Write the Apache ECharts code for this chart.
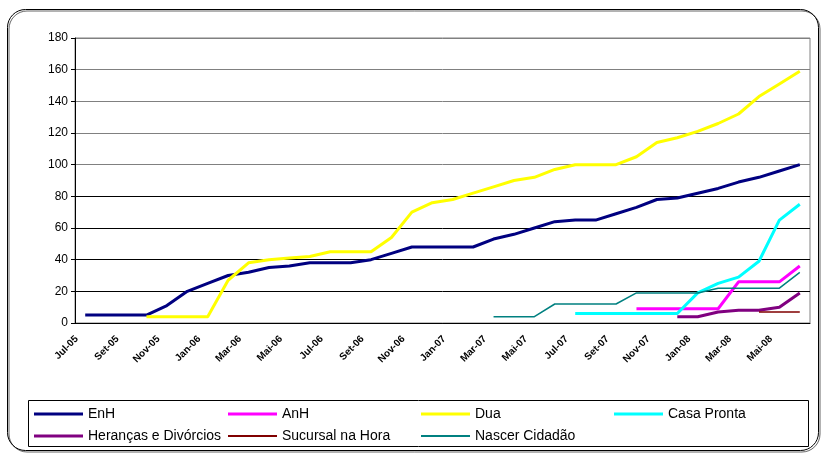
<!DOCTYPE html>
<html>
<head>
<meta charset="utf-8">
<script src="https://cdn.jsdelivr.net/npm/echarts@6/dist/echarts.min.js"></script>
<style>
    html, body {margin: 0; padding: 0; background: #fff;}
    #main {width: 822px; height: 453px;}
</style>
</head>
<body>
<div id="main"></div>
<script>
    // meses (Jul-05 .. Jun-08)
    const months = [
        'Jul-05', 'Ago-05', 'Set-05', 'Out-05', 'Nov-05', 'Dez-05',
        'Jan-06', 'Fev-06', 'Mar-06', 'Abr-06', 'Mai-06', 'Jun-06',
        'Jul-06', 'Ago-06', 'Set-06', 'Out-06', 'Nov-06', 'Dez-06',
        'Jan-07', 'Fev-07', 'Mar-07', 'Abr-07', 'Mai-07', 'Jun-07',
        'Jul-07', 'Ago-07', 'Set-07', 'Out-07', 'Nov-07', 'Dez-07',
        'Jan-08', 'Fev-08', 'Mar-08', 'Abr-08', 'Mai-08', 'Jun-08'
    ];
    const yTicks = [0, 20, 40, 60, 80, 100, 120, 140, 160, 180];

    const enh = [5, 5, 5, 5, 11, 20, 25, 30, 32, 35, 36, 38, 38, 38, 40, 44, 48, 48, 48, 48, 53, 56, 60, 64, 65, 65, 69, 73, 78, 79, 82, 85, 89, 92, 96, 100];
    const anh = [null, null, null, null, null, null, null, null, null, null, null, null, null, null, null, null, null, null, null, null, null, null, null, null, null, null, null, 9, 9, 9, 9, 9, 26, 26, 26, 36];
    const dua = [null, null, null, 4, 4, 4, 4, 27, 38, 40, 41, 42, 45, 45, 45, 54, 70, 76, 78, 82, 86, 90, 92, 97, 100, 100, 100, 105, 114, 117, 121, 126, 132, 143, 151, 159];
    const casaPronta = [null, null, null, null, null, null, null, null, null, null, null, null, null, null, null, null, null, null, null, null, null, null, null, null, 6, 6, 6, 6, 6, 6, 19, 25, 29, 39, 65, 75];
    const herancas = [null, null, null, null, null, null, null, null, null, null, null, null, null, null, null, null, null, null, null, null, null, null, null, null, null, null, null, null, null, 4, 4, 7, 8, 8, 10, 19];
    const sucursal = [null, null, null, null, null, null, null, null, null, null, null, null, null, null, null, null, null, null, null, null, null, null, null, null, null, null, null, null, null, null, null, null, null, 7, 7, 7];
    const nascer = [null, null, null, null, null, null, null, null, null, null, null, null, null, null, null, null, null, null, null, null, 4, 4, 4, 12, 12, 12, 12, 19, 19, 19, 19, 22, 22, 22, 22, 32];

    const seriesDefs = [
        {name: 'EnH', data: enh, color: '#000080', width: 3},
        {name: 'AnH', data: anh, color: '#ff00ff', width: 3},
        {name: 'Dua', data: dua, color: '#ffff00', width: 3},
        {name: 'Casa Pronta', data: casaPronta, color: '#00ffff', width: 3},
        {name: 'Heranças e Divórcios', data: herancas, color: '#800080', width: 3},
        {name: 'Sucursal na Hora', data: sucursal, color: '#800000', width: 1.5},
        {name: 'Nascer Cidadão', data: nascer, color: '#008080', width: 1.5}
    ];

    const font = 'Liberation Sans, Arial, sans-serif';
    const legendCols = [34, 228, 421, 614];
    const legendRows = [407, 429];

    let getOption = () => {
        // uma legenda por item, para ficar em colunas fixas como no original
        let legends = seriesDefs.map((s, i) => ({
            data: [s.name],
            left: legendCols[i % 4],
            top: legendRows[Math.floor(i / 4)],
            padding: 0,
            icon: 'rect',
            itemWidth: 49,
            itemHeight: s.width > 2 ? 3 : 2,
            selectedMode: false,
            itemStyle: {color: s.color, borderWidth: 0},
            textStyle: {fontSize: 14, fontFamily: font, color: '#000'}
        }));

        let option = {
            backgroundColor: '#fff',
            animation: false,
            graphic: [
                {
                    type: 'rect',
                    z: -1,
                    shape: {x: 7.5, y: 9.5, width: 811, height: 441, r: 18},
                    style: {
                        fill: 'rgba(0,0,0,0)', stroke: '#000', lineWidth: 1,
                        shadowColor: 'rgba(0,0,0,0.6)', shadowOffsetX: 1.5, shadowOffsetY: 1.5, shadowBlur: 0
                    }
                },
                {
                    type: 'rect',
                    z: -1,
                    shape: {x: 28.5, y: 400.5, width: 780, height: 46},
                    style: {fill: '#fff', stroke: '#000', lineWidth: 1}
                }
            ],
            legend: legends,
            grid: {
                left: 75, right: 12, top: 38, bottom: 130,
                show: true, borderColor: '#808080', borderWidth: 1
            },
            xAxis: {
                type: 'category',
                data: months,
                boundaryGap: true,
                axisLine: {lineStyle: {color: '#000', width: 1}},
                axisTick: {interval: 1, length: 4, lineStyle: {color: '#000'}},
                axisLabel: {
                    interval: 1,
                    rotate: 45,
                    margin: 6,
                    padding: [0, 12, 0, 0],
                    fontSize: 10,
                    fontWeight: 'bold',
                    fontFamily: font,
                    color: '#000'
                },
                splitLine: {show: false}
            },
            yAxis: {
                type: 'value',
                min: yTicks[0],
                max: yTicks[yTicks.length - 1],
                interval: 20,
                axisLine: {show: true, lineStyle: {color: '#000', width: 1}},
                axisTick: {show: true, length: 4, lineStyle: {color: '#000'}},
                axisLabel: {fontSize: 12, fontFamily: font, color: '#000', margin: 7},
                splitLine: {
                    show: true,
                    lineStyle: {
                        width: 1,
                        color: yTicks.map(v => v >= 100 ? '#808080' : '#000')
                    }
                }
            },
            series: seriesDefs.map(s => ({
                name: s.name,
                type: 'line',
                data: s.data,
                symbol: 'none',
                connectNulls: false,
                color: s.color,
                lineStyle: {color: s.color, width: s.width},
                emphasis: {disabled: true}
            }))
        };
        return option;
    };

    let chart = echarts.init(document.getElementById('main'), null, {renderer: 'canvas'});
    chart.setOption(getOption());
</script>
</body>
</html>
